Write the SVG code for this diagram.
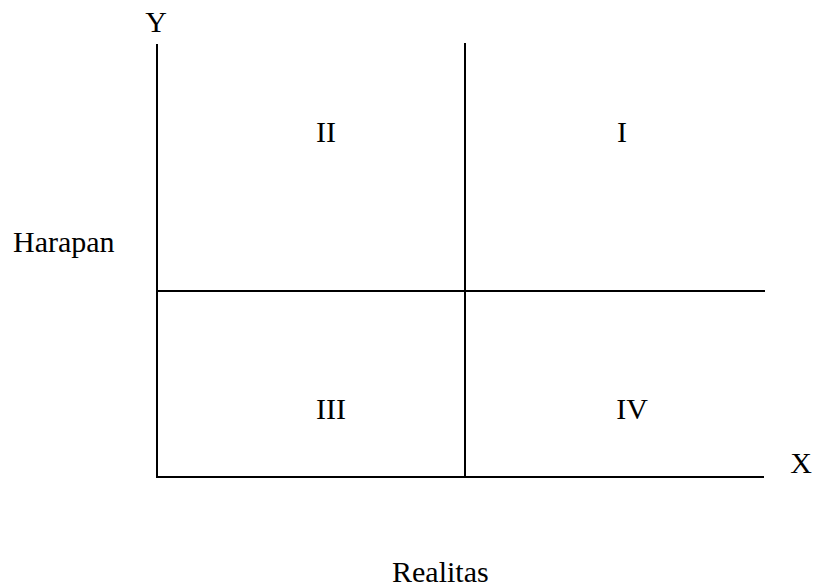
<svg xmlns="http://www.w3.org/2000/svg" width="814" height="587" viewBox="0 0 814 587">
<style>
.ln{stroke:#000;stroke-width:2;fill:none}
text{font-family:"Liberation Serif","Times New Roman",serif;font-size:30px;fill:#000}
</style>
<rect width="814" height="587" fill="#fff"/>
<g id="connectors">
<line class="ln" x1="157" y1="44" x2="157" y2="478"/>
<line class="ln" x1="156" y1="477" x2="764" y2="477"/>
<line class="ln" x1="465" y1="43" x2="465" y2="477"/>
<line class="ln" x1="157" y1="291" x2="765" y2="291"/>
</g>
<g id="axis-y"><text x="156" y="32" text-anchor="middle">Y</text></g>
<g id="axis-x"><text x="801" y="473" text-anchor="middle">X</text></g>
<g id="label-harapan"><text x="13" y="252">Harapan</text></g>
<g id="label-realitas"><text x="392" y="582">Realitas</text></g>
<g id="q2"><text x="326" y="142" text-anchor="middle">II</text></g>
<g id="q1"><text x="622" y="142" text-anchor="middle">I</text></g>
<g id="q3"><text x="331" y="419" text-anchor="middle">III</text></g>
<g id="q4"><text x="632" y="419" text-anchor="middle">IV</text></g>
</svg>
